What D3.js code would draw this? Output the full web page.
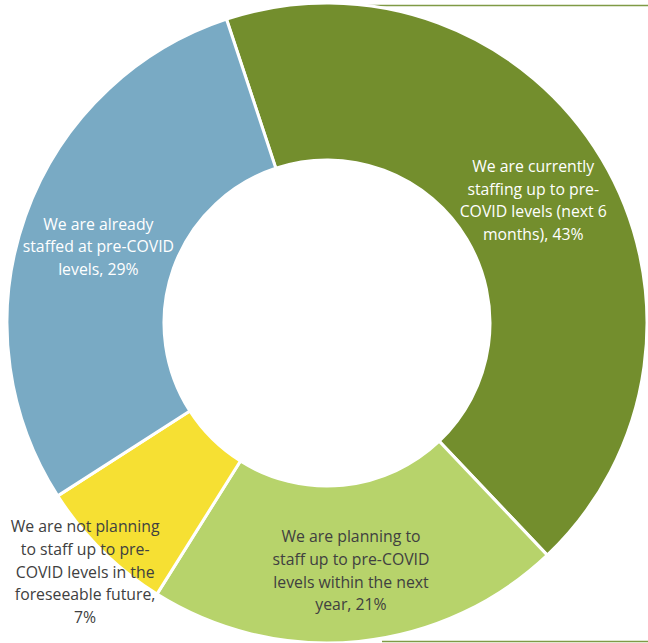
<!DOCTYPE html>
<html>
<head>
<meta charset="utf-8">
<script src="https://cdn.jsdelivr.net/npm/d3@7"></script>
<style>
  html, body { margin: 0; padding: 0; background: #fff; }
  svg { display: block; }
  text { font-family: "Open Sans", Lato, sans-serif; }
</style>
</head>
<body>
<svg id="chart" width="648" height="643"></svg>
<script>
// Survey responses on returning to pre-COVID staffing levels
const categories = [
  "We are currently staffing up to pre-COVID levels (next 6 months)",
  "We are planning to staff up to pre-COVID levels within the next year",
  "We are not planning to staff up to pre-COVID levels in the foreseeable future",
  "We are already staffed at pre-COVID levels"
];
const values = [43, 21, 7, 29];
const labelLines = [
  ["We are currently", "staffing up to pre-", "COVID levels (next 6", "months), 43%"],
  ["We are planning to", "staff up to pre-COVID", "levels within the next", "year, 21%"],
  ["We are not planning", "to staff up to pre-", "COVID levels in the", "foreseeable future,", "7%"],
  ["We are already", "staffed at pre-COVID", "levels, 29%"]
];
const colors = ["#738e2d", "#b7d36b", "#f6e033", "#79aac4"];
const textColors = ["#ffffff", "#404040", "#404040", "#ffffff"];

const W = 648, H = 643;
const cx = 327, cy = 323;
const outerR = 320, innerR = 163;
const startDeg = -18.3;

const svg = d3.select("#chart");

// chart frame segments along the top and bottom edges
svg.append("line").attr("x1", 365).attr("x2", W).attr("y1", 5.5).attr("y2", 5.5)
  .attr("stroke", "#7f9a45").attr("stroke-width", 1.5);
svg.append("line").attr("x1", 382).attr("x2", W).attr("y1", 641.5).attr("y2", 641.5)
  .attr("stroke", "#7f9a45").attr("stroke-width", 1.5);

const pie = d3.pie()
  .sort(null)
  .value(d => d.value)
  .startAngle(startDeg * Math.PI / 180)
  .endAngle((startDeg + 360) * Math.PI / 180);

const arc = d3.arc().innerRadius(innerR).outerRadius(outerR);

const data = categories.map((c, i) => ({ name: c, value: values[i], i }));
const arcs = pie(data);

const g = svg.append("g").attr("transform", `translate(${cx},${cy})`);

g.selectAll("path.slice")
  .data(arcs)
  .join("path")
  .attr("class", "slice")
  .attr("d", arc)
  .attr("fill", d => colors[d.data.i])
  .attr("stroke", "#ffffff")
  .attr("stroke-width", 3)
  .attr("stroke-linejoin", "miter");

// label nudges relative to slice centroid
const labelShift = [[-1, 1], [0, 7], [-72, 77], [-1, 4]];
const lineH = 22.7;
const fontSize = 15.8;

const labels = g.selectAll("g.label")
  .data(arcs)
  .join("g")
  .attr("class", "label")
  .attr("transform", d => {
    const [x, y] = arc.centroid(d);
    const s = labelShift[d.data.i];
    return `translate(${x + s[0]},${y + s[1]})`;
  });

labels.each(function(d) {
  const lines = labelLines[d.data.i];
  const n = lines.length;
  d3.select(this).selectAll("text")
    .data(lines)
    .join("text")
    .attr("text-anchor", "middle")
    .attr("dominant-baseline", "central")
    .attr("y", (t, k) => (k - (n - 1) / 2) * lineH)
    .attr("font-size", fontSize)
    .attr("fill", textColors[d.data.i])
    .text(t => t);
});
</script>
</body>
</html>
